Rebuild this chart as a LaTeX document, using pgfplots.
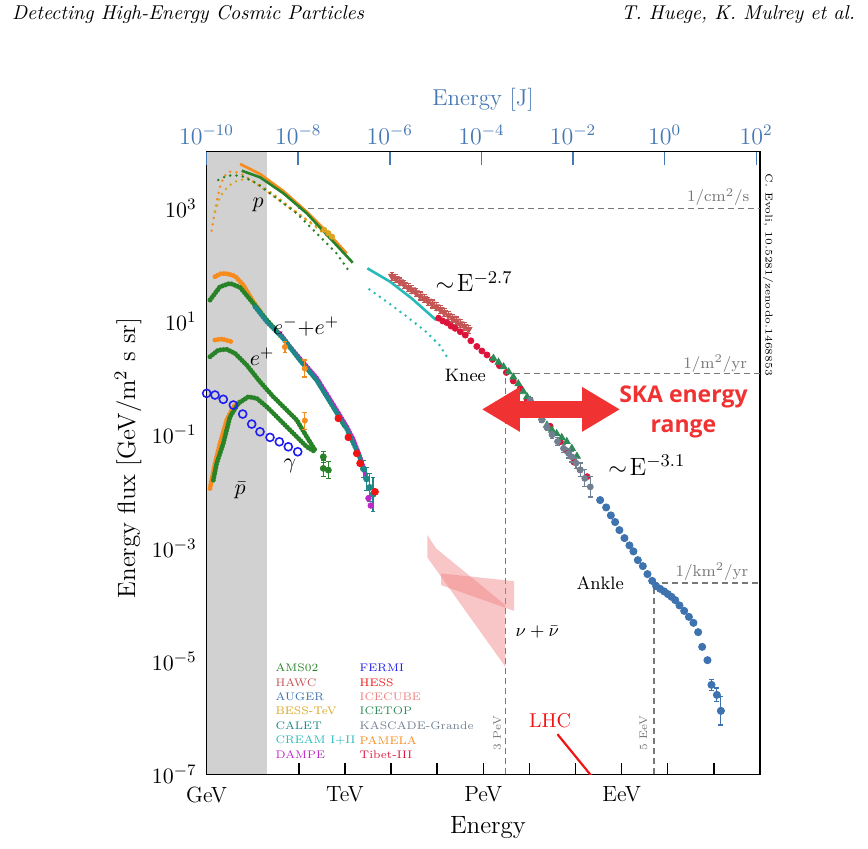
\documentclass[border=0pt]{standalone}
\usepackage{pgfplots}
\pgfplotsset{compat=1.18}
\usepackage{fontspec}
\newfontfamily\skafont{Open Sans}
\usetikzlibrary{arrows.meta}
\definecolor{ams}{RGB}{40,130,40}
\definecolor{pamela}{RGB}{247,140,30}
\definecolor{bess}{RGB}{218,165,32}
\definecolor{calet}{RGB}{30,135,135}
\definecolor{cream}{RGB}{40,185,185}
\definecolor{dampe}{RGB}{190,40,200}
\definecolor{fermi}{RGB}{30,30,240}
\definecolor{hess}{RGB}{240,20,20}
\definecolor{icecube}{RGB}{240,128,128}
\definecolor{icetop}{RGB}{46,139,87}
\definecolor{kascade}{RGB}{112,128,144}
\definecolor{tibet}{RGB}{220,20,60}
\definecolor{hawc}{RGB}{195,85,85}
\definecolor{auger}{RGB}{62,115,175}
\definecolor{jblue}{RGB}{70,120,180}
\definecolor{skared}{RGB}{240,50,50}
\definecolor{dashgray}{RGB}{120,120,120}
\pgfplotsset{
  beads/.style={line width=2.5pt, line cap=round, dash pattern=on 0pt off 1.6pt},
  dots/.style={line width=1.4pt, line cap=round, dash pattern=on 0pt off 3.2pt},
  guide/.style={dashgray, line width=0.75pt, dash pattern=on 3pt off 2pt},
  errs/.style={error bars/.cd, y dir=both, y explicit, error mark options={rotate=90, mark size=1.2pt, line width=0.6pt}, error bar style={line width=0.6pt}},
}
\begin{document}
\begin{tikzpicture}
\useasboundingbox (-103.3pt,-37.25pt) rectangle (330.7pt,387.25pt);
% ---------- main axis: x = log10(E/GeV), y = log10(energy flux) ----------
\begin{axis}[
  at={(0,0)}, anchor=south west, scale only axis,
  width=276.7pt, height=311.4pt,
  xmin=0, xmax=12, ymin=-7, ymax=4,
  clip mode=individual,
  axis line style={line width=0.8pt},
  tick align=inside, major tick length=5.8pt,
  xtick pos=bottom, ytick pos=left,
  every tick/.style={black, line width=0.7pt},
  xtick={0,...,12},
  xticklabels={GeV,,,TeV,,,PeV,,,EeV,,,},
  ytick={-7,-5,-3,-1,1,3},
  yticklabels={$10^{-7}$,$10^{-5}$,$10^{-3}$,$10^{-1}$,$10^{1}$,$10^{3}$},
  x tick label style={font=\fontsize{11}{13}\selectfont, yshift=-2.5pt},
  y tick label style={font=\fontsize{11}{13}\selectfont, xshift=-1.5pt},
  xlabel={Energy}, ylabel={Energy flux [GeV/m$^2$ s sr]},
  xlabel style={at={(axis description cs:0.5085,-0.0859)}, anchor=center, font=\fontsize{12.5}{14}\selectfont},
  ylabel style={at={(axis description cs:-0.142,0.508)}, anchor=center, font=\fontsize{12.5}{14}\selectfont},
]
% shaded low-energy region
\addplot[draw=none, fill=black!18] coordinates {(0,-7) (1.30,-7) (1.30,4) (0,4)} -- cycle;
% guide lines
\addplot[guide] coordinates {(1.98,3.0) (12,3.0)};
\addplot[guide] coordinates {(6.477,-7) (6.477,0.085) (12,0.085)};
\addplot[guide] coordinates {(9.699,-7) (9.699,-3.615) (12,-3.615)};
% neutrino bands (ICECUBE)
\addplot[draw=none, fill=icecube, fill opacity=0.45] coordinates {(4.787,-2.772) (4.976,-3.007) (6.479,-4.009) (6.479,-5.099) (4.787,-3.166)} -- cycle;
\addplot[draw=none, fill=icecube, fill opacity=0.45] coordinates {(5.085,-3.449) (6.668,-3.585) (6.668,-4.110) (5.085,-3.656)} -- cycle;
% LHC
\addplot[hess, line width=1.1pt] coordinates {(7.607,-6.288) (8.40,-7.08)};
% ---------- protons ----------
\addplot[pamela, dots] coordinates {(0.110,2.605) (0.161,2.852) (0.218,3.117) (0.291,3.382) (0.377,3.559) (0.471,3.647) (0.616,3.647) (0.797,3.588) (1.014,3.470) (1.267,3.323) (1.520,3.176) (1.809,2.999) (2.098,2.840) (2.388,2.675) (2.677,2.499) (2.894,2.352)};
\addplot[bess, dots] coordinates {(0.182,2.94) (0.291,3.205) (0.471,3.394) (0.688,3.50) (0.905,3.512) (1.158,3.412) (1.45,3.25) (1.75,3.06) (2.05,2.87) (2.35,2.68) (2.60,2.52)};
\addplot[ams, dots] coordinates {(0.254,3.50) (0.399,3.559) (0.580,3.588) (0.797,3.559) (1.086,3.441) (1.375,3.264) (1.665,3.088) (1.954,2.911) (2.243,2.675) (2.532,2.440) (2.821,2.204) (3.111,1.863)};
\addplot[pamela, line width=1.3pt] coordinates {(0.725,3.783) (1.158,3.607) (1.664,3.306) (2.171,2.940) (2.605,2.587) (3.039,2.205)};
\addplot[ams, line width=1.3pt] coordinates {(0.761,3.664) (1.158,3.548) (1.664,3.265) (2.171,2.912) (2.677,2.470) (3.169,2.039)};
\addplot[bess, only marks, mark=*, mark size=1.3pt] coordinates {(2.55,2.62) (2.64,2.56) (2.72,2.50)};
% CREAM
\addplot[cream, dots] coordinates {(3.530,1.568) (3.906,1.350) (4.325,1.097) (4.759,0.820) (5.048,0.585) (5.265,0.308)};
\addplot[cream, line width=1.3pt] coordinates {(3.487,1.939) (3.978,1.704) (4.448,1.409) (4.976,1.026)};
% HAWC
\addplot[hawc, only marks, mark=triangle*, mark size=2pt, mark options={rotate=180}, errs] coordinates {
 (4.02,1.80)+-(0,0.07) (4.10,1.76)+-(0,0.07) (4.19,1.70)+-(0,0.07) (4.28,1.66)+-(0,0.07) (4.37,1.60)+-(0,0.07)
 (4.45,1.56)+-(0,0.07) (4.54,1.51)+-(0,0.07) (4.63,1.45)+-(0,0.07) (4.72,1.41)+-(0,0.07) (4.80,1.36)+-(0,0.07)
 (4.89,1.31)+-(0,0.07) (4.98,1.26)+-(0,0.07) (5.07,1.21)+-(0,0.07) (5.15,1.16)+-(0,0.07) (5.24,1.11)+-(0,0.07)
 (5.33,1.06)+-(0,0.07) (5.42,1.01)+-(0,0.07) (5.50,0.96)+-(0,0.07) (5.59,0.91)+-(0,0.07) (5.68,0.86)+-(0,0.07)};
% Tibet-III
\addplot[tibet, only marks, mark=*, mark size=1.5pt] coordinates {(5.03,1.06) (5.12,1.01) (5.21,0.98) (5.30,0.92) (5.39,0.88) (5.50,0.82) (5.61,0.76) (5.73,0.66) (5.86,0.56) (5.97,0.48) (6.08,0.41) (6.20,0.33) (6.35,0.22) (6.50,0.10) (6.65,-0.05) (6.80,-0.18) (6.95,-0.38) (7.20,-0.62) (7.45,-0.85) (7.67,-1.12) (7.80,-1.28) (7.96,-1.48) (8.10,-1.62) (8.25,-1.74)};
% ICETOP
\addplot[icetop, only marks, mark=triangle*, mark size=2pt] coordinates {(6.22,0.35) (6.33,0.28) (6.44,0.20) (6.55,0.11) (6.65,0.02) (6.76,-0.10) (6.87,-0.24) (6.95,-0.33) (7.02,-0.39) (7.15,-0.55) (7.27,-0.70) (7.38,-0.83) (7.49,-0.92) (7.59,-0.98) (7.70,-1.05) (7.81,-1.12) (7.92,-1.24) (8.03,-1.38)};
% KASCADE-Grande
\addplot[kascade, only marks, mark=*, mark size=1.5pt, errs] coordinates {(7.02,-0.39)+-(0,0.05) (7.15,-0.58)+-(0,0.05) (7.27,-0.74)+-(0,0.05) (7.38,-0.87)+-(0,0.06) (7.49,-1.00)+-(0,0.06) (7.61,-1.12)+-(0,0.07) (7.74,-1.24)+-(0,0.07) (7.85,-1.33)+-(0,0.08) (7.92,-1.39)+-(0,0.09) (8.01,-1.50)+-(0,0.10) (8.10,-1.62)+-(0,0.12) (8.20,-1.77)+-(0,0.15) (8.32,-1.92)+-(0,0.18)};
% AUGER
\addplot[auger, only marks, mark=*, mark size=1.8pt] coordinates {(8.534,-2.154) (8.664,-2.283) (8.766,-2.424) (8.859,-2.542) (8.952,-2.684) (9.061,-2.825) (9.169,-2.954) (9.256,-3.060) (9.351,-3.214) (9.460,-3.320) (9.560,-3.461) (9.662,-3.580) (9.748,-3.673) (9.835,-3.721) (9.922,-3.767) (10.002,-3.814) (10.080,-3.862) (10.161,-3.920) (10.254,-4.014) (10.356,-4.110) (10.458,-4.216) (10.557,-4.322) (10.659,-4.486) (10.746,-4.746) (10.861,-4.981)};
\addplot[auger, only marks, mark=*, mark size=1.8pt, errs] coordinates {(10.948,-5.417)+-(0,0.10) (11.065,-5.594)+-(0,0.12) (11.152,-5.876)+-(0,0.25)};
% ---------- electrons + positrons ----------
\addplot[pamela, beads] coordinates {(0.182,1.792) (0.291,1.84) (0.399,1.850) (0.508,1.83) (0.616,1.804) (0.796,1.645) (1.013,1.350) (1.195,1.145)};
\addplot[ams, beads] coordinates {(0.074,1.380) (0.291,1.615) (0.508,1.675) (0.725,1.604) (0.941,1.392) (1.304,1.027) (1.664,0.703) (2.026,0.320) (2.388,-0.034) (2.748,-0.505) (3.0,-0.86)};
\addplot[dampe, beads] coordinates {(1.59,0.79) (1.80,0.56) (2.03,0.34) (2.39,0.0) (2.75,-0.47) (3.04,-0.86) (3.18,-1.08) (3.33,-1.40) (3.47,-1.75)};
\addplot[calet, beads] coordinates {(1.05,1.26) (1.30,1.00) (1.66,0.70) (2.03,0.31) (2.39,-0.04) (2.75,-0.52) (3.04,-0.90) (3.18,-1.15) (3.33,-1.42)};
\addplot[calet, only marks, mark=*, mark size=1.5pt, errs] coordinates {(3.40,-1.60)+-(0,0.15) (3.47,-1.78)+-(0,0.2) (3.54,-1.93)+-(0,0.25) (3.61,-2.05)+-(0,0.3)};
\addplot[dampe, only marks, mark=*, mark size=1.4pt] coordinates {(3.51,-2.12) (3.56,-2.25)};
\addplot[hess, only marks, mark=*, mark size=1.7pt] coordinates {(2.857,-0.710) (3.074,-1.046) (3.256,-1.329) (3.328,-1.505) (3.653,-2.007)};
\addplot[pamela, only marks, mark=*, mark size=1.3pt, errs] coordinates {(1.70,0.55)+-(0,0.10) (2.13,0.17)+-(0,0.15)};
% positrons
\addplot[pamela, beads] coordinates {(0.182,0.673) (0.291,0.69) (0.362,0.685) (0.544,0.643)};
\addplot[ams, beads] coordinates {(0.074,0.378) (0.254,0.496) (0.436,0.509) (0.616,0.438) (0.870,0.231) (1.158,-0.064) (1.447,-0.329) (1.738,-0.564) (1.954,-0.740) (2.171,-1.035) (2.351,-1.270)};
\addplot[ams, only marks, mark=*, mark size=1.5pt, errs] coordinates {(2.531,-1.389)+-(0,0.1) (2.640,-1.624)+-(0,0.15)};
\addplot[pamela, only marks, mark=*, mark size=1.3pt, errs] coordinates {(2.13,-0.75)+-(0,0.15)};
% antiprotons
\addplot[pamela, beads] coordinates {(0.074,-1.947) (0.182,-1.505) (0.291,-1.152) (0.436,-0.740) (0.580,-0.505) (0.761,-0.387)};
\addplot[ams, beads] coordinates {(0.146,-1.800) (0.218,-1.505) (0.362,-1.152) (0.508,-0.682) (0.688,-0.445) (0.905,-0.329) (1.087,-0.357) (1.304,-0.505) (1.521,-0.682) (1.738,-0.859) (1.954,-1.035) (2.171,-1.212) (2.351,-1.300)};
\addplot[ams, only marks, mark=*, mark size=1.5pt, errs] coordinates {(2.531,-1.594)+-(0,0.15)};
% gamma (FERMI)
\addplot[fermi, only marks, mark=o, mark size=2pt, line width=0.8pt] coordinates {(0.002,-0.269) (0.182,-0.298) (0.362,-0.374) (0.580,-0.475) (0.783,-0.634) (0.978,-0.811) (1.158,-0.947) (1.375,-1.046) (1.577,-1.124) (1.772,-1.212) (1.976,-1.300)};
% ---------- SKA arrow ----------
\draw[skared, line width=8.5pt, {Triangle[length=19pt,width=21pt]}-{Triangle[length=19pt,width=21pt]}] (axis cs:5.967,-0.551) -- (axis cs:8.967,-0.551);
\node[skared, font=\skafont\bfseries\fontsize{11.5}{15}\selectfont, align=center] at (axis cs:10.34,-0.594) {SKA energy\\range};
% ---------- labels ----------
\node[font=\fontsize{11}{13}\selectfont] at (axis cs:1.119,3.058) {$p$};
\node[font=\fontsize{11}{13}\selectfont] at (axis cs:2.157,0.903) {$e^{-}{+}e^{+}$};
\node[font=\fontsize{11}{13}\selectfont] at (axis cs:1.202,0.373) {$e^{+}$};
\node[font=\fontsize{11}{13}\selectfont] at (axis cs:1.809,-1.553) {$\gamma$};
\node[font=\fontsize{11}{13}\selectfont] at (axis cs:0.725,-1.977) {$\bar{p}$};
\node[font=\fontsize{12.5}{14}\selectfont] at (axis cs:5.80,1.703) {$\sim\!\mathrm{E}^{-2.7}$};
\node[font=\fontsize{12.5}{14}\selectfont] at (axis cs:9.547,-1.535) {$\sim\!\mathrm{E}^{-3.1}$};
\node[font=\fontsize{9}{11}\selectfont] at (axis cs:5.612,0.055) {Knee};
\node[font=\fontsize{9}{11}\selectfont] at (axis cs:8.534,-3.615) {Ankle};
\node[font=\fontsize{9}{11}\selectfont, inner sep=1pt] at (axis cs:7.17,-4.481) {$\nu+\bar{\nu}$};
\node[hess, font=\fontsize{10}{12}\selectfont] at (axis cs:7.449,-6.041) {LHC};
\node[dashgray, rotate=90, font=\fontsize{5.5}{6}\selectfont] at (axis cs:6.30,-6.27) {3 PeV};
\node[dashgray, rotate=90, font=\fontsize{5.5}{6}\selectfont] at (axis cs:9.473,-6.265) {5 EeV};
\node[dashgray, font=\fontsize{8}{9}\selectfont] at (axis cs:11.095,3.20) {$1/\mathrm{cm}^2/\mathrm{s}$};
\node[dashgray, font=\fontsize{8}{9}\selectfont] at (axis cs:11.028,0.261) {$1/\mathrm{m}^2/\mathrm{yr}$};
\node[dashgray, font=\fontsize{8}{9}\selectfont] at (axis cs:10.957,-3.420) {$1/\mathrm{km}^2/\mathrm{yr}$};
% ---------- legend (text only) ----------
\begin{scope}[every node/.style={anchor=west, inner sep=0pt, font=\fontsize{5.5}{6.5}\selectfont}]
\node[ams] at (axis cs:1.486,-5.117) {AMS02};
\node[hawc] at (axis cs:1.486,-5.375) {HAWC};
\node[auger] at (axis cs:1.486,-5.629) {AUGER};
\node[bess] at (axis cs:1.486,-5.882) {BESS-TeV};
\node[calet] at (axis cs:1.486,-6.141) {CALET};
\node[cream] at (axis cs:1.486,-6.394) {CREAM I+II};
\node[dampe] at (axis cs:1.486,-6.647) {DAMPE};
\node[fermi] at (axis cs:3.312,-5.117) {FERMI};
\node[hess] at (axis cs:3.312,-5.375) {HESS};
\node[icecube] at (axis cs:3.312,-5.629) {ICECUBE};
\node[icetop] at (axis cs:3.312,-5.882) {ICETOP};
\node[kascade] at (axis cs:3.312,-6.141) {KASCADE-Grande};
\node[pamela] at (axis cs:3.312,-6.394) {PAMELA};
\node[tibet] at (axis cs:3.312,-6.647) {Tibet-III};
\end{scope}
\end{axis}
% ---------- top axis: energy in joules ----------
\begin{axis}[
  at={(0,0)}, anchor=south west, scale only axis,
  width=276.7pt, height=311.4pt,
  xmin=-10, xmax=2.083, ymin=-7, ymax=4,
  axis x line*=top, axis y line=none,
  axis line style={line width=0.8pt, black},
  tick align=inside, major tick length=6.5pt,
  xtick={-10,-8,...,2},
  xticklabels={$10^{-10}$,$10^{-8}$,$10^{-6}$,$10^{-4}$,$10^{-2}$,$10^{0}$,$10^{2}$},
  x tick style={jblue, line width=0.7pt},
  x tick label style={font=\fontsize{11.5}{13}\selectfont, text=jblue},
  xlabel={Energy [J]},
  xlabel style={text=jblue, font=\fontsize{11.5}{13}\selectfont, at={(axis description cs:0.4995,1.083)}, anchor=center},
]
\addplot[draw=none] coordinates {(0,0)};
\end{axis}
% ---------- page header and credit ----------
\node[anchor=west, font=\itshape\fontsize{10}{12}\selectfont] at (-100.8pt,379.75pt) {Detecting High-Energy Cosmic Particles};
\node[anchor=east, font=\itshape\fontsize{10}{12}\selectfont] at (327.7pt,379.75pt) {T. Huege, K. Mulrey et al.};
\node[rotate=-90, anchor=south, inner sep=0.8pt, font=\fontsize{5}{6}\selectfont] at (277.2pt,249.75pt) {C. Evoli, 10.5281/zenodo.1468853};
\end{tikzpicture}
\end{document}
